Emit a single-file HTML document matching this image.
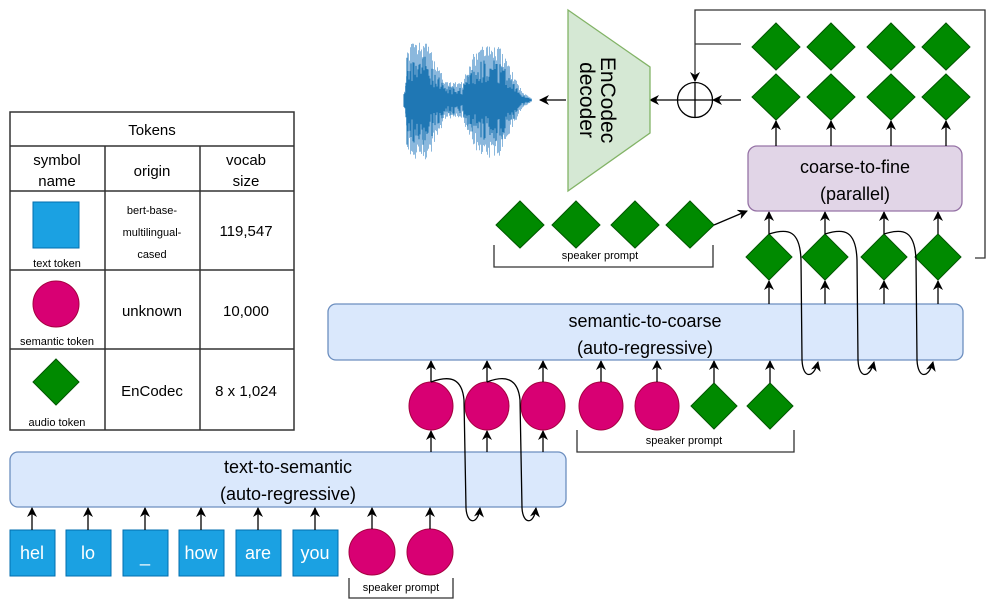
<!DOCTYPE html>
<html><head><meta charset="utf-8"><style>
html,body{margin:0;padding:0;background:#fff;}
svg{display:block;font-family:"Liberation Sans",Arial,sans-serif;}
</style></head><body>
<svg id="s" width="996" height="604" viewBox="0 0 996 604" xmlns="http://www.w3.org/2000/svg">
<defs>
<marker id="a" viewBox="0 0 10 10" refX="9" refY="5" markerWidth="10" markerHeight="10" markerUnits="userSpaceOnUse" orient="auto">
<path d="M0,0 L10,5 L0,10 L3,5 z" fill="#000"/></marker>
</defs>
<rect width="996" height="604" fill="#fff"/>

<g stroke="#333" stroke-width="1.5" fill="none">
<rect x="10" y="112" width="284" height="318"/>
<line x1="10" y1="146" x2="294" y2="146"/>
<line x1="10" y1="191" x2="294" y2="191"/>
<line x1="10" y1="270" x2="294" y2="270"/>
<line x1="10" y1="349" x2="294" y2="349"/>
<line x1="105" y1="146" x2="105" y2="430"/>
<line x1="200" y1="146" x2="200" y2="430"/>
</g>
<g font-size="15" fill="#000" text-anchor="middle">
<text x="152" y="135">Tokens</text>
<text x="57" y="165">symbol</text><text x="57" y="186">name</text>
<text x="152" y="176">origin</text>
<text x="246" y="165">vocab</text><text x="246" y="186">size</text>
<text x="246" y="236">119,547</text>
<text x="152" y="316">unknown</text>
<text x="246" y="316">10,000</text>
<text x="152" y="396">EnCodec</text>
<text x="246" y="396">8 x 1,024</text>
</g>
<g font-size="11" text-anchor="middle" fill="#000">
<text x="152" y="214">bert-base-</text>
<text x="152" y="236">multilingual-</text>
<text x="152" y="258">cased</text>
<text x="57" y="267">text token</text>
<text x="57" y="345">semantic token</text>
<text x="57" y="426">audio token</text>
</g>
<rect x="33" y="202" width="46" height="46" fill="#1ba1e2" stroke="#006eaf"/>
<circle cx="56" cy="304" r="23" fill="#d80073" stroke="#a50040"/>
<polygon points="56,359 79,382 56,405 33,382" fill="#008a00" stroke="#005700"/>

<rect x="10" y="452" width="556" height="55" rx="8" fill="#dae8fc" stroke="#6c8ebf" stroke-width="1.3"/>
<text x="288" y="473" font-size="18" text-anchor="middle">text-to-semantic</text>
<text x="288" y="500" font-size="18" text-anchor="middle">(auto-regressive)</text>

<g fill="#1ba1e2" stroke="#006eaf">
<rect x="10" y="530" width="45" height="46"/>
<rect x="66" y="530" width="45" height="46"/>
<rect x="123" y="530" width="45" height="46"/>
<rect x="179" y="530" width="45" height="46"/>
<rect x="236" y="530" width="45" height="46"/>
<rect x="293" y="530" width="45" height="46"/>
</g>
<g fill="#fff" font-size="18" text-anchor="middle">
<text x="32" y="559">hel</text><text x="88" y="559">lo</text><text x="145" y="562">_</text>
<text x="201" y="559">how</text><text x="258" y="559">are</text><text x="315" y="559">you</text>
</g>
<g fill="#d80073" stroke="#a50040">
<ellipse cx="372" cy="552" rx="23" ry="23"/>
<ellipse cx="430" cy="552" rx="23" ry="23"/>
</g>
<path d="M349,578 V598 H453 V578" fill="none" stroke="#333" stroke-width="1.3"/>
<text x="401" y="591" font-size="11" text-anchor="middle">speaker prompt</text>

<g stroke="#000" stroke-width="1.3" marker-end="url(#a)">
<line x1="32" y1="530" x2="32" y2="508"/>
<line x1="88" y1="530" x2="88" y2="508"/>
<line x1="145" y1="530" x2="145" y2="508"/>
<line x1="201" y1="530" x2="201" y2="508"/>
<line x1="258" y1="530" x2="258" y2="508"/>
<line x1="315" y1="530" x2="315" y2="508"/>
<line x1="372" y1="529" x2="372" y2="508"/>
<line x1="430" y1="529" x2="430" y2="508"/>
</g>

<g fill="#d80073" stroke="#a50040">
<ellipse cx="431" cy="406" rx="22" ry="24"/>
<ellipse cx="487" cy="406" rx="22" ry="24"/>
<ellipse cx="543" cy="406" rx="22" ry="24"/>
<ellipse cx="601" cy="406" rx="22" ry="24"/>
<ellipse cx="657" cy="406" rx="22" ry="24"/>
</g>
<g fill="#008a00" stroke="#005700">
<polygon points="714,383 737,406 714,429 691,406"/>
<polygon points="770,383 793,406 770,429 747,406"/>
</g>
<path d="M577,430 V452 H794 V430" fill="none" stroke="#333" stroke-width="1.3"/>
<text x="684" y="444" font-size="11" text-anchor="middle">speaker prompt</text>

<g stroke="#000" stroke-width="1.3" fill="none" marker-end="url(#a)">
<line x1="431" y1="452" x2="431" y2="431"/>
<line x1="487" y1="452" x2="487" y2="431"/>
<line x1="543" y1="452" x2="543" y2="431"/>
<line x1="431" y1="382" x2="431" y2="361"/>
<line x1="487" y1="382" x2="487" y2="361"/>
<line x1="543" y1="382" x2="543" y2="361"/>
<line x1="601" y1="382" x2="601" y2="361"/>
<line x1="657" y1="382" x2="657" y2="361"/>
<line x1="714" y1="383" x2="714" y2="361"/>
<line x1="770" y1="383" x2="770" y2="361"/>
<path d="M431,382 C450,375 462,378 464,400 L466,508 C467,525 478,525 480,508"/>
<path d="M487,382 C505,375 518,378 520,400 L522,508 C523,525 534,525 536,508"/>
</g>

<rect x="328" y="304" width="635" height="56" rx="8" fill="#dae8fc" stroke="#6c8ebf" stroke-width="1.3"/>
<text x="645" y="327" font-size="18" text-anchor="middle">semantic-to-coarse</text>
<text x="645" y="354" font-size="18" text-anchor="middle">(auto-regressive)</text>

<g fill="#008a00" stroke="#005700">
<polygon points="769,234 792,257 769,280 746,257"/>
<polygon points="825,234 848,257 825,280 802,257"/>
<polygon points="884,234 907,257 884,280 861,257"/>
<polygon points="938,234 961,257 938,280 915,257"/>
</g>
<g stroke="#000" stroke-width="1.3" fill="none" marker-end="url(#a)">
<line x1="769" y1="304" x2="769" y2="281"/>
<line x1="825" y1="304" x2="825" y2="281"/>
<line x1="884" y1="304" x2="884" y2="281"/>
<line x1="938" y1="304" x2="938" y2="281"/>
<line x1="769" y1="234" x2="769" y2="212"/>
<line x1="825" y1="234" x2="825" y2="212"/>
<line x1="884" y1="234" x2="884" y2="212"/>
<line x1="938" y1="234" x2="938" y2="212"/>
<path d="M769,234 C788,228 800,230 801,260 L802,360 C803,380 814,378 818,362"/>
<path d="M825,234 C844,228 856,230 857,260 L858,360 C859,380 870,378 874,362"/>
<path d="M884,234 C903,228 915,230 916,260 L917,360 C918,380 929,378 933,362"/>
</g>

<rect x="748" y="146" width="214" height="65" rx="9" fill="#e1d5e7" stroke="#9673a6" stroke-width="1.3"/>
<text x="855" y="173" font-size="18" text-anchor="middle">coarse-to-fine</text>
<text x="855" y="200" font-size="18" text-anchor="middle">(parallel)</text>

<g fill="#008a00" stroke="#005700">
<polygon points="776,23 800,47 776,70 752,47"/>
<polygon points="831,23 855,47 831,70 807,47"/>
<polygon points="891,23 915,47 891,70 867,47"/>
<polygon points="946,23 970,47 946,70 922,47"/>
<polygon points="776,74 800,97 776,120 752,97"/>
<polygon points="831,74 855,97 831,120 807,97"/>
<polygon points="891,74 915,97 891,120 867,97"/>
<polygon points="946,74 970,97 946,120 922,97"/>
</g>
<g stroke="#000" stroke-width="1.3" fill="none" marker-end="url(#a)">
<line x1="776" y1="146" x2="776" y2="121"/>
<line x1="831" y1="146" x2="831" y2="121"/>
<line x1="891" y1="146" x2="891" y2="121"/>
<line x1="946" y1="146" x2="946" y2="121"/>
</g>

<g fill="#008a00" stroke="#005700">
<polygon points="520,201 544,225 520,248 496,225"/>
<polygon points="576,201 600,225 576,248 552,225"/>
<polygon points="635,201 659,225 635,248 611,225"/>
<polygon points="690,201 714,225 690,248 666,225"/>
</g>
<path d="M494,245 V267 H713 V245" fill="none" stroke="#333" stroke-width="1.3"/>
<text x="600" y="259" font-size="11" text-anchor="middle">speaker prompt</text>
<line x1="714" y1="225" x2="747" y2="211" stroke="#000" stroke-width="1.3" marker-end="url(#a)"/>

<path d="M975,258 H985 V10 H695 V81" fill="none" stroke="#333" stroke-width="1.3" marker-end="url(#a)"/>
<path d="M741,44 H695" fill="none" stroke="#333" stroke-width="1.3"/>
<circle cx="695" cy="100" r="17.5" fill="#fff" stroke="#000" stroke-width="1.3"/>
<line x1="677.5" y1="100" x2="712.5" y2="100" stroke="#000" stroke-width="1.3"/>
<line x1="695" y1="82.5" x2="695" y2="117.5" stroke="#000" stroke-width="1.3"/>
<line x1="741" y1="100" x2="713" y2="100" stroke="#000" stroke-width="1.3" marker-end="url(#a)"/>
<line x1="677" y1="100" x2="650" y2="100" stroke="#000" stroke-width="1.3" marker-end="url(#a)"/>

<polygon points="568,10 650,67 650,133 568,191" fill="#d5e8d4" stroke="#82b366" stroke-width="1.3"/>
<text transform="translate(601,100) rotate(90)" font-size="21" text-anchor="middle">EnCodec</text>
<text transform="translate(580,100) rotate(90)" font-size="21" text-anchor="middle">decoder</text>
<line x1="566" y1="100" x2="540" y2="100" stroke="#000" stroke-width="1.3" marker-end="url(#a)"/>

<path id="wave2" d="" stroke="#8bb8dd" stroke-width="1" fill="none"/>
<path id="wave" d="" stroke="#1f77b4" stroke-width="1.1" fill="none"/>
</svg>
<script>
(function(){
var d="",d2="",seed=11;
function r(){seed=(seed*9301+49297)%233280;return seed/233280;}
function env(x){
 var t=x-404;
 if(t<3) return 10+t*8;
 if(t<22) return 58;
 if(t<42) return 58-(t-22)*2;
 if(t<58) return 18;
 if(t<72) return 18+(t-58)*2.6;
 if(t<95) return 54;
 if(t<118) return 54-(t-95)*2;
 return Math.max(1,8-(t-118)*0.7);
}
for(var x=404;x<=531;x+=1){
 var e=env(x);
 var k=0.3+0.45*r();
 d+="M"+x+","+(100-e*k).toFixed(1)+"V"+(100+e*k*(0.9+0.3*r())).toFixed(1);
 var k2=0.6+0.4*Math.pow(r(),0.5);
 d2+="M"+(x+0.5)+","+(100-e*k2).toFixed(1)+"V"+(100+e*k2*(0.9+0.2*r())).toFixed(1);
}
document.getElementById("wave").setAttribute("d",d);
document.getElementById("wave2").setAttribute("d",d2);
})();
</script>
</body></html>
